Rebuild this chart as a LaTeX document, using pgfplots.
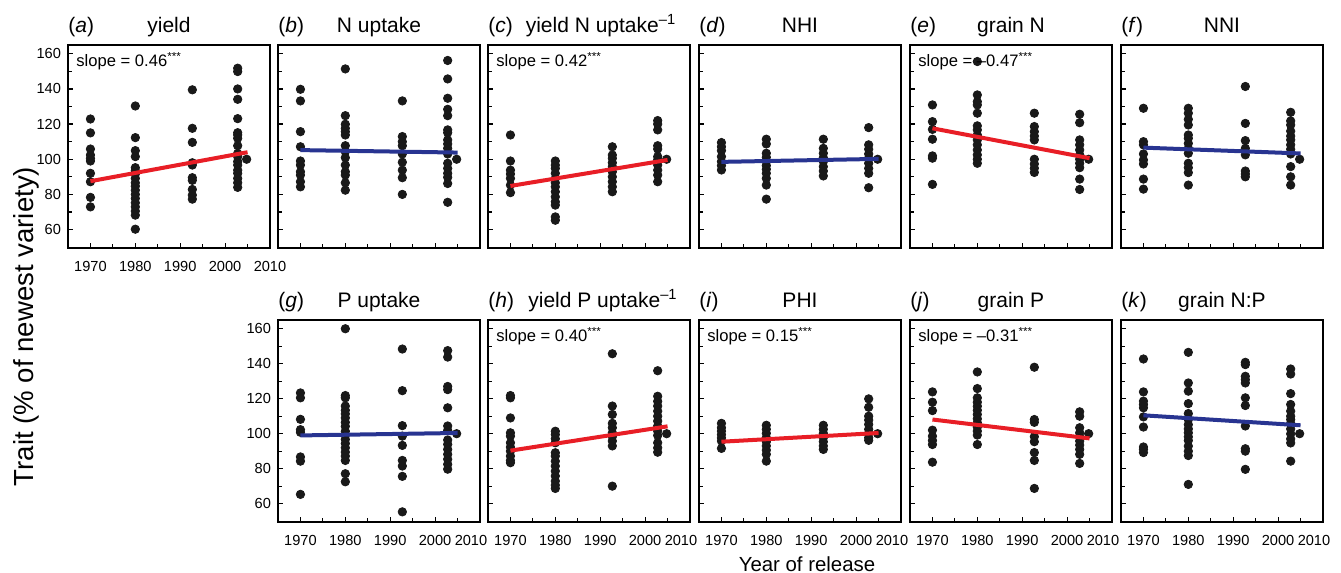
\documentclass[border=0pt]{standalone}
\usepackage{pgfplots}
\pgfplotsset{compat=1.18}
\usepackage{fontspec}
\setmainfont{Liberation Sans}
\definecolor{fitred}{RGB}{232,30,38}
\definecolor{fitblue}{RGB}{40,52,145}
\definecolor{dotc}{RGB}{25,25,25}

\pgfplotsset{
  panel/.style={
    scale only axis, width=101pt, height=101.5pt, anchor=north west,
    xmin=1965, xmax=2010, ymin=49.5, ymax=165,
    clip mode=individual,
    xtick={1970,1980,...,2010}, ytick={60,80,...,160},
    minor x tick num=1, minor y tick num=1,
    tick pos=left, tick align=inside,
    major tick length=2.4pt, minor tick length=2pt,
    every tick/.style={black, line width=0.6pt},
    axis line style={line width=0.75pt},
    /pgf/number format/1000 sep={},
    /pgf/number format/assume math mode=true,
    ticklabel style={font=\fontsize{7.3}{8}\selectfont},
    xticklabel style={yshift=-3pt},
    xticklabels={}, yticklabels={},
  },
  withx/.style={xticklabels={1970,1980,1990,2000,2010}},
  withxb/.style={xticklabels={1970,1980,1990,2000,\hspace*{-9pt}2010}},
  withy/.style={yticklabels={60,80,100,120,140,160}},
  dots/.style={only marks, mark=*, mark size=2.1pt, color=dotc},
  redfit/.style={fitred, line width=2pt, no marks},
  bluefit/.style={fitblue, line width=2pt, no marks},
}
\tikzset{
  lab/.style={anchor=base west, inner sep=0pt, yshift=6.2pt, font=\fontsize{10.5}{12}\selectfont},
  ttl/.style={anchor=base, inner sep=0pt, yshift=6.2pt, font=\fontsize{10.5}{12}\selectfont},
  slp/.style={anchor=north west, inner sep=0pt, xshift=4pt, yshift=-3.5pt, font=\fontsize{8.3}{9}\selectfont},
}

\begin{document}
\begin{tikzpicture}
\useasboundingbox (0pt,0pt) rectangle (670.5pt,-286.5pt);

% (a) yield
\begin{axis}[panel, withx, withy, at={(34pt,-22.5pt)}]
\addplot[dots] coordinates {
(1970,122.9)(1970,115)(1970,105.8)(1970,102.4)(1970,100.5)(1970,99)(1970,92)(1970,87.2)(1970,78.3)(1970,72.9)
(1980,130.3)(1980,112.3)(1980,104.9)(1980,101.5)(1980,95.2)(1980,93.5)(1980,91.6)(1980,89.1)(1980,86.6)(1980,84.7)(1980,82.4)(1980,80)(1980,77.7)(1980,75.2)(1980,72.9)(1980,70.5)(1980,68.2)(1980,60.2)
(1992.7,139.5)(1992.7,117.6)(1992.7,109.6)(1992.7,98)(1992.7,96.7)(1992.7,89.5)(1992.7,88)(1992.7,82.8)(1992.7,79.6)(1992.7,77.3)
(2002.8,151.8)(2002.8,149.9)(2002.8,140)(2002.8,134.1)(2002.8,123.1)(2002.8,115.1)(2002.8,113.8)(2002.8,111.9)(2002.8,107.7)(2002.8,103.3)(2002.8,101.5)(2002.8,98.7)(2002.8,96.7)(2002.8,93.8)(2002.8,92)(2002.8,89.1)(2002.8,86.6)(2002.8,84)
(2004.8,100)};
\addplot[redfit] coordinates {(1970,87.5)(2005,104)};
\node[lab] at (rel axis cs:0,1) {(\textit{a})};
\node[ttl] at (rel axis cs:0.5,1) {yield};
\node[slp] at (rel axis cs:0,1) {slope = 0.46\textsuperscript{***}};
\end{axis}

% (b) N uptake
\begin{axis}[panel, at={(139pt,-22.5pt)}]
\addplot[dots] coordinates {
(1970,139.8)(1970,133.2)(1970,115.7)(1970,107.1)(1970,99)(1970,96.7)(1970,92.9)(1970,91)(1970,87.2)(1970,84.3)
(1980,151.4)(1980,124.8)(1980,119.9)(1980,117.6)(1980,115.7)(1980,113.8)(1980,107.7)(1980,104.3)(1980,100.9)(1980,96.7)(1980,92.9)(1980,91)(1980,86.6)(1980,82.4)
(1992.7,133.2)(1992.7,112.9)(1992.7,110)(1992.7,107.7)(1992.7,103)(1992.7,98.3)(1992.7,93.8)(1992.7,89.5)(1992.7,80)
(2002.8,156.2)(2002.8,145.7)(2002.8,134.7)(2002.8,128.4)(2002.8,124.8)(2002.8,116.7)(2002.8,115.1)(2002.8,111)(2002.8,108.7)(2002.8,106.2)(2002.8,103)(2002.8,97.7)(2002.8,94.8)(2002.8,92)(2002.8,89.7)(2002.8,86.2)(2002.8,75.5)
(2004.8,100)};
\addplot[bluefit] coordinates {(1970,105.2)(2005,103.8)};
\node[lab] at (rel axis cs:0,1) {(\textit{b})};
\node[ttl] at (rel axis cs:0.5,1) {N uptake};
\end{axis}

% (c) yield N uptake^-1
\begin{axis}[panel, at={(244pt,-22.5pt)}]
\addplot[dots] coordinates {
(1970,113.8)(1970,99)(1970,93.8)(1970,91.6)(1970,89.1)(1970,85.3)(1970,81)
(1980,99)(1980,96.7)(1980,94.8)(1980,92)(1980,89.1)(1980,86.6)(1980,84.3)(1980,81.5)(1980,78.6)(1980,75.8)(1980,73.9)(1980,67.2)(1980,65.3)
(1992.7,107.1)(1992.7,102.4)(1992.7,100.5)(1992.7,98)(1992.7,95.8)(1992.7,92.9)(1992.7,90)(1992.7,87.2)(1992.7,84.3)(1992.7,81.5)
(2002.8,122)(2002.8,120)(2002.8,116.7)(2002.8,107.7)(2002.8,105.8)(2002.8,101.5)(2002.8,99.6)(2002.8,96.7)(2002.8,93.8)(2002.8,91)(2002.8,87.2)
(2004.8,100)};
\addplot[redfit] coordinates {(1970,84.8)(2005,99.6)};
\node[lab] at (rel axis cs:0,1) {(\textit{c})};
\node[ttl, xshift=6pt] at (rel axis cs:0.5,1) {yield N uptake\textsuperscript{--1}};
\node[slp] at (rel axis cs:0,1) {slope = 0.42\textsuperscript{***}};
\end{axis}

% (d) NHI
\begin{axis}[panel, at={(349.5pt,-22.5pt)}]
\addplot[dots] coordinates {
(1970,109.5)(1970,107.1)(1970,104.9)(1970,101.5)(1970,98.7)(1970,96.4)(1970,93.9)
(1980,111.4)(1980,108.7)(1980,103.4)(1980,101.1)(1980,98.7)(1980,96.4)(1980,94.3)(1980,92)(1980,89.1)(1980,85.3)(1980,77.3)
(1992.7,111.4)(1992.7,106.2)(1992.7,103.4)(1992.7,100.9)(1992.7,98.7)(1992.7,95.8)(1992.7,93.3)(1992.7,90.5)
(2002.8,118)(2002.8,108.2)(2002.8,105.7)(2002.8,103)(2002.8,100.6)(2002.8,97.7)(2002.8,94.8)(2002.8,92)(2002.8,83.8)
(2004.8,100)};
\addplot[bluefit] coordinates {(1970,98.5)(2005,100.2)};
\node[lab] at (rel axis cs:0,1) {(\textit{d})};
\node[ttl] at (rel axis cs:0.5,1) {NHI};
\end{axis}

% (e) grain N
\begin{axis}[panel, at={(455pt,-22.5pt)}]
\addplot[dots] coordinates {
(1970,130.9)(1970,121.4)(1970,117)(1970,111.4)(1970,101.9)(1970,100.6)(1970,85.7)
(1980,155.6)(1980,136.6)(1980,132.8)(1980,130.9)(1980,126.2)(1980,119)(1980,116.7)(1980,113.8)(1980,111)(1980,108.2)(1980,105.3)(1980,102.5)(1980,100)(1980,97.7)
(1992.7,126.2)(1992.7,118.6)(1992.7,115.7)(1992.7,113.2)(1992.7,111)(1992.7,100)(1992.7,97.3)(1992.7,94.9)(1992.7,92.5)
(2002.8,125.6)(2002.8,120.8)(2002.8,111)(2002.8,108.2)(2002.8,105.3)(2002.8,102.5)(2002.8,100)(2002.8,97.7)(2002.8,95.2)(2002.8,88.7)(2002.8,82.8)
(2004.8,100)};
\addplot[redfit] coordinates {(1970,117.6)(2005,100.6)};
\node[lab] at (rel axis cs:0,1) {(\textit{e})};
\node[ttl] at (rel axis cs:0.5,1) {grain N};
\node[slp] at (rel axis cs:0,1) {slope = --0.47\textsuperscript{***}};
\end{axis}

% (f) NNI
\begin{axis}[panel, at={(560.5pt,-22.5pt)}]
\addplot[dots] coordinates {
(1970,129)(1970,110)(1970,108.2)(1970,103)(1970,99.6)(1970,97.3)(1970,88.7)(1970,83)
(1980,129)(1980,126.2)(1980,122.7)(1980,119.5)(1980,113.8)(1980,111.9)(1980,109)(1980,106.2)(1980,103.4)(1980,97.7)(1980,95.2)(1980,92.4)(1980,85.3)
(1992.7,141.4)(1992.7,120.4)(1992.7,110.6)(1992.7,106.2)(1992.7,102.5)(1992.7,93.3)(1992.7,91.6)(1992.7,90)
(2002.8,126.7)(2002.8,121.8)(2002.8,119.5)(2002.8,116)(2002.8,113.2)(2002.8,111)(2002.8,108.2)(2002.8,105.7)(2002.8,103)(2002.8,95.8)(2002.8,90)(2002.8,85.3)
(2004.8,100)};
\addplot[bluefit] coordinates {(1970,106.6)(2005,103.3)};
\node[lab] at (rel axis cs:0,1) {(\textit{f})};
\node[ttl] at (rel axis cs:0.5,1) {NNI};
\end{axis}

% (g) P uptake
\begin{axis}[panel, withxb, withy, height=101pt, at={(139pt,-160pt)}]
\addplot[dots] coordinates {
(1970,123.3)(1970,120.5)(1970,108.2)(1970,102.3)(1970,100.8)(1970,86.7)(1970,84.3)(1970,65.3)
(1980,160)(1980,121.8)(1980,120.5)(1980,115.8)(1980,113.4)(1980,111.3)(1980,109)(1980,106.5)(1980,104.2)(1980,101.4)(1980,99)(1980,96.7)(1980,94.4)(1980,91.9)(1980,89.5)(1980,87.2)(1980,84.7)(1980,77.1)(1980,72.5)
(1992.7,148.4)(1992.7,124.6)(1992.7,104.6)(1992.7,98.6)(1992.7,93.3)(1992.7,84.7)(1992.7,81.5)(1992.7,75.6)(1992.7,55.3)
(2002.8,147.5)(2002.8,143.8)(2002.8,127)(2002.8,125.2)(2002.8,114.8)(2002.8,104.4)(2002.8,101.9)(2002.8,96.4)(2002.8,93.9)(2002.8,91)(2002.8,88.2)(2002.8,85.4)(2002.8,82.5)(2002.8,79.7)
(2004.8,100)};
\addplot[bluefit] coordinates {(1970,99)(2005,100.4)};
\node[lab] at (rel axis cs:0,1) {(\textit{g})};
\node[ttl] at (rel axis cs:0.5,1) {P uptake};
\end{axis}

% (h) yield P uptake^-1
\begin{axis}[panel, withxb, height=101pt, at={(244pt,-160pt)}]
\addplot[dots] coordinates {
(1970,121.8)(1970,120.5)(1970,109)(1970,100.5)(1970,98.6)(1970,94.8)(1970,92.3)(1970,90)(1970,87.2)(1970,84.7)(1970,83.4)
(1980,101.4)(1980,99.5)(1980,97.1)(1980,94.8)(1980,89.1)(1980,87.2)(1980,84.3)(1980,81.5)(1980,78.6)(1980,75.8)(1980,72.9)(1980,70.6)(1980,68.7)
(1992.7,145.7)(1992.7,115.8)(1992.7,111)(1992.7,105.9)(1992.7,103.4)(1992.7,100.5)(1992.7,98.3)(1992.7,95.8)(1992.7,93)(1992.7,70)
(2002.8,136)(2002.8,121.4)(2002.8,118.5)(2002.8,115.8)(2002.8,112.9)(2002.8,110)(2002.8,107.2)(2002.8,104.4)(2002.8,101.5)(2002.8,99)(2002.8,94.8)(2002.8,91.9)(2002.8,89.4)
(2004.8,100)};
\addplot[redfit] coordinates {(1970,90.3)(2005,104.2)};
\node[lab] at (rel axis cs:0,1) {(\textit{h})};
\node[ttl, xshift=7pt] at (rel axis cs:0.5,1) {yield P uptake\textsuperscript{--1}};
\node[slp] at (rel axis cs:0,1) {slope = 0.40\textsuperscript{***}};
\end{axis}

% (i) PHI
\begin{axis}[panel, withxb, height=101pt, at={(349.5pt,-160pt)}]
\addplot[dots] coordinates {
(1970,105.9)(1970,103.4)(1970,101.5)(1970,99.5)(1970,97.6)(1970,95.8)(1970,91.6)
(1980,104.8)(1980,102.5)(1980,100.2)(1980,97.7)(1980,95.4)(1980,93)(1980,90.6)(1980,88.2)(1980,84.3)
(1992.7,104.8)(1992.7,102.5)(1992.7,100.2)(1992.7,97.7)(1992.7,95.4)(1992.7,93)(1992.7,91)
(2002.8,119.9)(2002.8,115.1)(2002.8,110)(2002.8,107.8)(2002.8,105.3)(2002.8,102.5)(2002.8,100.2)(2002.8,97.7)(2002.8,96.2)
(2004.8,100)};
\addplot[redfit] coordinates {(1970,95.4)(2005,100.4)};
\node[lab] at (rel axis cs:0,1) {(\textit{i})};
\node[ttl] at (rel axis cs:0.5,1) {PHI};
\node[slp] at (rel axis cs:0,1) {slope = 0.15\textsuperscript{***}};
\end{axis}

% (j) grain P
\begin{axis}[panel, withxb, height=101pt, at={(455pt,-160pt)}]
\addplot[dots] coordinates {
(1970,123.9)(1970,118)(1970,113.2)(1970,102)(1970,98.6)(1970,96.1)(1970,93.8)(1970,83.7)
(1980,135.3)(1980,125.8)(1980,120.5)(1980,118)(1980,115.7)(1980,113.4)(1980,111)(1980,108.5)(1980,106.3)(1980,103.8)(1980,101.5)(1980,99.2)(1980,93.8)
(1992.7,138)(1992.7,108.1)(1992.7,106.5)(1992.7,98.3)(1992.7,95.4)(1992.7,89.2)(1992.7,84.7)(1992.7,68.7)
(2002.8,112.5)(2002.8,110)(2002.8,103.4)(2002.8,100.5)(2002.8,98.3)(2002.8,95.8)(2002.8,93.5)(2002.8,91)(2002.8,88.2)(2002.8,83)
(2004.8,100)};
\addplot[redfit] coordinates {(1970,108.1)(2005,97.3)};
\node[lab] at (rel axis cs:0,1) {(\textit{j})};
\node[ttl] at (rel axis cs:0.5,1) {grain P};
\node[slp] at (rel axis cs:0,1) {slope = --0.31\textsuperscript{***}};
\end{axis}

% (k) grain N:P
\begin{axis}[panel, withxb, height=101pt, at={(560.5pt,-160pt)}]
\addplot[dots] coordinates {
(1970,142.7)(1970,123.9)(1970,118.6)(1970,116.7)(1970,114.8)(1970,109.6)(1970,103.8)(1970,92.4)(1970,91)(1970,89.2)
(1980,146.5)(1980,129)(1980,124.3)(1980,117.2)(1980,111.5)(1980,108.1)(1980,105.2)(1980,102.7)(1980,100.5)(1980,98.2)(1980,96.1)(1980,92.9)(1980,90)(1980,87.5)(1980,71)
(1992.7,140.8)(1992.7,139.5)(1992.7,132.8)(1992.7,130.9)(1992.7,129)(1992.7,120.5)(1992.7,116.1)(1992.7,104.4)(1992.7,91.4)(1992.7,90)(1992.7,79.6)
(2002.8,137)(2002.8,134.1)(2002.8,122.9)(2002.8,116.7)(2002.8,112.9)(2002.8,110)(2002.8,108.1)(2002.8,105.9)(2002.8,102.7)(2002.8,99.9)(2002.8,97)(2002.8,94.7)(2002.8,84.3)
(2004.8,100)};
\addplot[bluefit] coordinates {(1970,110.5)(2005,104.8)};
\node[lab] at (rel axis cs:0,1) {(\textit{k})};
\node[ttl] at (rel axis cs:0.5,1) {grain N:P};
\end{axis}

\node[rotate=90, anchor=base, inner sep=0pt, font=\fontsize{13.8}{15}\selectfont] at (16.5pt,-163.3pt) {Trait (\% of newest variety)};
\node[anchor=base, inner sep=0pt, font=\fontsize{10.2}{12}\selectfont] at (403.5pt,-285.5pt) {Year of release};
\end{tikzpicture}
\end{document}
